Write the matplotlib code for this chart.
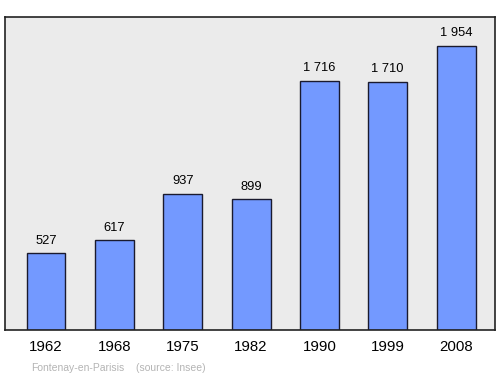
import matplotlib.pyplot as plt

plt.rcParams['font.family'] = ['Liberation Sans', 'DejaVu Sans']

# population data
years = ['1962', '1968', '1975', '1982', '1990', '1999', '2008']
population = [527, 617, 937, 899, 1716, 1710, 1954]
value_labels = ['527', '617', '937', '899', '1 716', '1 710', '1 954']

fig = plt.figure(figsize=(5, 3.74), dpi=100)
ax = fig.add_axes([0.01, 0.1176, 0.98, 0.837])
ax.set_facecolor('#ebebeb')

x = range(len(years))
bars = ax.bar(x, population, width=0.57, color='#7399ff',
              edgecolor='#1a1a2e', linewidth=1)

for xi, val, lab in zip(x, population, value_labels):
    ax.text(xi, val + 66, lab, ha='center', va='baseline', fontsize=9.3)

ax.set_xlim(-0.6, 6.57)
ax.set_ylim(0, 2154)
ax.set_xticks(list(x))
ax.set_xticklabels(years, fontsize=10.8)
ax.tick_params(axis='x', length=0, pad=7)
ax.set_yticks([])
for s in ax.spines.values():
    s.set_color('#222222')
    s.set_linewidth(1.2)

# footer
fig.text(0.062, 0.009, 'Fontenay-en-Parisis', fontsize=7.5, color='#b4b4b4')
fig.text(0.272, 0.009, '(source: Insee)', fontsize=7.5, color='#b4b4b4')

fig.savefig('out.png', dpi=100)
